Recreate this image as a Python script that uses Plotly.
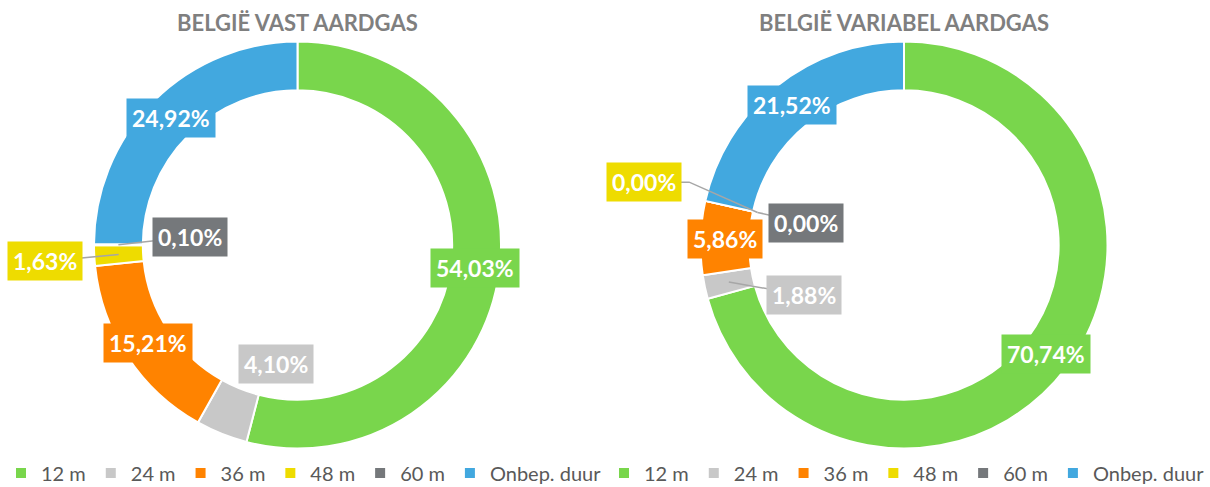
import math
import plotly.graph_objects as go

# ---------------- data ----------------
categories = ["12 m", "24 m", "36 m", "48 m", "60 m", "Onbep. duur"]
vast_values = [54.03, 4.10, 15.21, 1.63, 0.10, 24.92]
variabel_values = [70.74, 1.88, 5.86, 0.00, 0.00, 21.52]
titles = ["BELGIË VAST AARDGAS", "BELGIË VARIABEL AARDGAS"]

# ---------------- styling / layout ----------------
colors = ["#79D64C", "#C8C8C8", "#FF8300", "#EEDC00", "#75787B", "#42A8DF"]
W, H = 1210, 487
R_OUT = 203.5
HOLE = 0.76
R_MID = R_OUT * (1 + HOLE) / 2
centers = [(297.5, 245.0), (904.0, 245.0)]
legend_x = [1.0, 604.0]

# label offsets (px) from ring mid point, and leader anchor radius (None = no leader)
label_cfg = [
    {1: ((45, -47), None), 3: ((-74, 7), R_MID), 4: ((72, -8), R_MID)},
    {1: ((75, 13), R_MID), 3: ((-85, -24), 150, True), 4: ((77, 17), 150)},
]


def px2paper(x, y):
    return x / W, 1 - y / H


def angle_point(center, frac, r):
    a = 2 * math.pi * frac
    return center[0] + r * math.sin(a), center[1] - r * math.cos(a)


def fmt(v):
    return f"{v:.2f}%".replace(".", ",")


fig = go.Figure()
annotations = []
shapes = []
FONT = "Lato, 'Open Sans', sans-serif"

for k, values in enumerate([vast_values, variabel_values]):
    cx, cy = centers[k]
    dom_x = [(cx - R_OUT) / W, (cx + R_OUT) / W]
    dom_y = [1 - (cy + R_OUT) / H, 1 - (cy - R_OUT) / H]
    lg = "legend" if k == 0 else "legend2"
    fig.add_trace(go.Pie(
        labels=categories, values=values, hole=HOLE, sort=False,
        direction="clockwise", rotation=0,
        marker=dict(colors=colors, line=dict(color="white", width=2)),
        textinfo="none", domain=dict(x=dom_x, y=dom_y),
        legend=lg, legendgroup=f"g{k}", showlegend=True,
        hovertemplate="%{label}: %{value:.2f}%<extra></extra>",
    ))

    total = sum(values)
    cum = 0.0
    for i, v in enumerate(values):
        mid = (cum + v / 2) / total
        cum += v
        px, py = angle_point((cx, cy), mid, R_MID)
        cfg = label_cfg[k].get(i)
        dx, dy = (0, 0)
        anchor_r = None
        elbow = False
        if cfg:
            dx, dy = cfg[0]
            anchor_r = cfg[1]
            if len(cfg) > 2:
                elbow = cfg[2]
        bx, by = px + dx, py + dy
        if anchor_r is not None:
            ax_, ay_ = angle_point((cx, cy), mid, anchor_r)
            if elbow:
                ex = bx + 45
                path = f"M {bx/W},{1-by/H} L {ex/W},{1-by/H} L {ax_/W},{1-ay_/H}"
                shapes.append(dict(type="path", xref="paper", yref="paper", path=path,
                                   line=dict(color="#A6A6A6", width=1.5), layer="above"))
            else:
                x0, y0 = px2paper(bx, by)
                x1, y1 = px2paper(ax_, ay_)
                shapes.append(dict(type="line", xref="paper", yref="paper",
                                   x0=x0, y0=y0, x1=x1, y1=y1,
                                   line=dict(color="#A6A6A6", width=1.5), layer="above"))
        xa, ya = px2paper(bx, by)
        annotations.append(dict(
            x=xa, y=ya, xref="paper", yref="paper", text=fmt(v), showarrow=False,
            xanchor="center", yanchor="middle", bgcolor=colors[i], borderpad=5,
            font=dict(family=FONT, size=23, color="white", weight="bold"),
        ))

    tx, ty = px2paper(cx, 22)
    annotations.append(dict(
        x=tx, y=ty, xref="paper", yref="paper", text=titles[k], showarrow=False,
        xanchor="center", yanchor="middle",
        font=dict(family=FONT, size=22, color="#7F7F7F", weight="bold"),
    ))

legend_common = dict(
    orientation="h", yanchor="middle", y=1 - 473 / H, xanchor="left",
    font=dict(family=FONT, size=20, color="#595959"),
    bgcolor="rgba(0,0,0,0)", traceorder="normal",
)
fig.update_layout(
    width=W, height=H, margin=dict(l=0, r=0, t=0, b=0, autoexpand=False),
    paper_bgcolor="white", plot_bgcolor="white",
    annotations=annotations, shapes=shapes,
    legend=dict(x=legend_x[0] / W, **legend_common),
    legend2=dict(x=legend_x[1] / W, **legend_common),
)

fig.write_html("out.html", config={"displayModeBar": False},
               post_script="document.body.style.margin='0';")
